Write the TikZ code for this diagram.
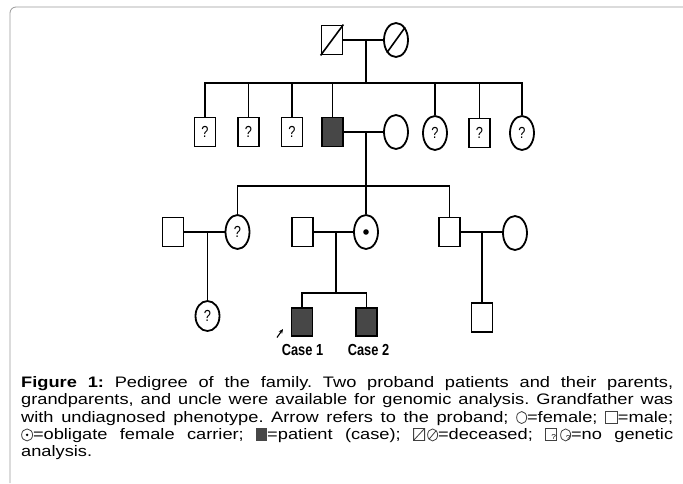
\documentclass[tikz,border=0pt]{standalone}
\usepackage{fontspec}
\setmainfont{Liberation Sans}
\newfontfamily\capfont[FakeStretch=1.2]{Liberation Sans}
\newfontfamily\narrowfont[FakeStretch=0.8]{Liberation Sans}
\usetikzlibrary{shapes.geometric, arrows.meta}
\colorlet{patfill}{black!72}
\tikzset{
  male/.style={draw, line width=1.8pt, minimum width=21pt, minimum height=29pt, inner sep=0pt, font=\narrowfont\fontsize{16}{16}\selectfont},
  female/.style={draw, ellipse, line width=1.8pt, minimum width=24pt, minimum height=34pt, inner sep=0pt, font=\narrowfont\fontsize{16}{16}\selectfont},
  patient/.style={male, fill=patfill},
  lbl/.style={font=\narrowfont\bfseries\fontsize{16}{16}\selectfont, inner sep=0pt, anchor=base},
  rel/.style={line width=1.7pt},
}
% small symbols for the legend in the caption
\newcommand{\symfemale}{\tikz[baseline=0pt]\draw[line width=0.8pt, black!75] (5pt,4.5pt) ellipse (5pt and 6pt);}
\newcommand{\symmale}{\tikz[baseline=0pt]\draw[line width=0.8pt, black!75] (0pt,-1pt) rectangle (12pt,11pt);}
\newcommand{\symcarrier}{\tikz[baseline=0pt]{\draw[line width=0.8pt, black!75] (5.5pt,4.5pt) ellipse (5.5pt and 6pt); \fill (5.5pt,4.5pt) circle (1.4pt);}}
\newcommand{\sympatient}{\tikz[baseline=0pt]\fill[patfill] (0pt,-1.5pt) rectangle (11pt,11.5pt);}
\newcommand{\symdead}{\tikz[baseline=0pt]{\draw[line width=0.8pt, black!75] (0pt,-1pt) rectangle (11pt,11pt) (0pt,-1pt) -- (11pt,11pt);
  \draw[line width=0.8pt, black!75] (19pt,4.5pt) ellipse (5pt and 6pt) (15.5pt,0.3pt) -- (22.5pt,8.7pt);}}
\newcommand{\symunknown}{\tikz[baseline=0pt]{\draw[line width=0.8pt, black!75] (0pt,-1pt) rectangle (11pt,11pt);
  \node[font=\fontsize{7}{7}\selectfont, inner sep=0pt] at (5.5pt,5pt) {?};
  \draw[line width=0.8pt, black!75] (20pt,4.5pt) ellipse (5pt and 6pt);
  \node[font=\fontsize{7}{7}\selectfont, inner sep=0pt] at (20pt,4.5pt) {?};}}

\begin{document}
\begin{tikzpicture}[x=1pt, y=-1pt]
  \useasboundingbox (0,0) rectangle (683,483);
  \draw[black!40, line width=0.8pt, rounded corners=6pt] (10,483) -- (10,7) -- (683,7);

  % generation I
  \node[male] (ggf) at (332,40) {};
  \node[female] (ggm) at (396,40) {};
  \draw[line width=1.6pt] (ggf.south west) -- (ggf.north east);
  \draw[line width=1.6pt] (ggm.south west) -- (ggm.north east);
  \coordinate (m1) at (366,40);
  \coordinate (b1) at (366,83);
  \draw[rel] (ggf) -- (ggm); \draw[rel] (m1) -- (b1);

  % generation II
  \node[male] (s1) at (205,132) {?};
  \node[male] (s2) at (248.5,132) {?};
  \node[male] (s3) at (292,132) {?};
  \node[patient] (gf) at (332.5,132) {};
  \node[female] (gm) at (396,132) {};
  \node[female] (s4) at (435,133) {?};
  \node[male] (s5) at (479.5,133) {?};
  \node[female] (s6) at (522,133) {?};
  \draw[rel] (s1) |- (b1) -| (s6);
  \foreach \n in {s2,s3,gf,s4,s5} \draw[rel] (\n) -- (\n |- b1);
  \coordinate (m2) at (366,132);
  \coordinate (b2) at (366,186);
  \draw[rel] (gf) -- (gm); \draw[rel] (m2) -- (b2);

  % generation III
  \node[male] (ah) at (173,232) {};
  \node[female] (aunt) at (237.5,232) {?};
  \node[male] (fa) at (302.5,232) {};
  \node[female] (mo) at (366,232) {};
  \fill (mo) circle (2.8);
  \node[male] (un) at (449.5,232) {};
  \node[female] (unw) at (515,233) {};
  \draw[rel] (aunt) |- (b2) -| (un); \draw[rel] (mo) -- (mo |- b2);
  \draw[rel] (ah) -- (aunt); \draw[rel] (fa) -- (mo); \draw[rel] (un) -- (un -| unw.west);
  \coordinate (m3) at (207.5,232);
  \coordinate (m4) at (336,232);
  \coordinate (b4) at (336,293);
  \coordinate (m5) at (482,232);

  % generation IV
  \node[female, minimum height=30pt] (c1) at (207.5,316) {?};
  \node[patient, minimum height=28pt] (case1) at (302,322) {};
  \node[patient, minimum height=28pt] (case2) at (366.5,322) {};
  \node[male] (c2) at (482,317.5) {};
  \draw[rel] (m3) -- (c1); \draw[rel] (m5) -- (c2);
  \draw[rel] (m4) -- (b4); \draw[rel] (case1) |- (b4) -| (case2);
  \node[lbl] (l1) at (302.5,355) {Case 1};
  \node[lbl] (l2) at (368.5,355) {Case 2};
  \coordinate (pt) at (277,337.5);
  \coordinate (ph) at (283,329);
  \draw[-{Stealth[length=4.5pt, width=4pt]}, line width=1.1pt] (pt) -- (ph);

  % caption
  \node[anchor=north west, inner sep=0pt, text width=652pt, align=justify,
    font=\capfont\fontsize{15.2}{17.4}\selectfont\frenchspacing] (cap) at (21,376)
    {\textbf{Figure 1:} Pedigree of the family. Two proband patients and their parents,\linebreak
     grandparents, and uncle were available for genomic analysis. Grandfather was\linebreak
     with undiagnosed phenotype. Arrow refers to the proband; \symfemale=female; \symmale=male;\linebreak
     \symcarrier=obligate female carrier; \sympatient=patient (case); \symdead=deceased; \symunknown=no genetic\linebreak
     analysis.};
\end{tikzpicture}
\end{document}
